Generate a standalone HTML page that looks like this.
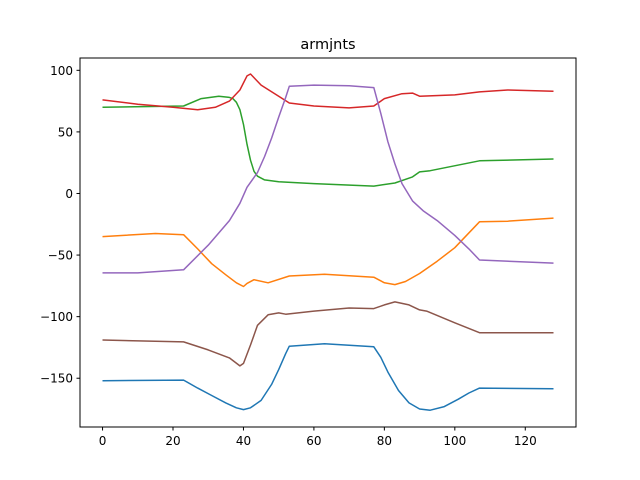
<!DOCTYPE html>
<html><head><meta charset="utf-8"><style>
html,body{margin:0;padding:0;background:#fff;}
svg{display:block;font-family:"DejaVu Sans","Liberation Sans",sans-serif;}
</style></head><body>
<svg id="chart" width="640" height="480" viewBox="0 0 640 480" xmlns="http://www.w3.org/2000/svg">
<rect width="640" height="480" fill="#fff"/>
<text x="328" y="49" font-size="14.5" text-anchor="middle" fill="#000">armjnts</text>
<g id="plot"></g>
<rect x="80" y="58" width="496" height="369" fill="none" stroke="#000" stroke-width="1"/>
<g id="axes"></g>
</svg>
<script>
const xTicks = [0, 20, 40, 60, 80, 100, 120];
const yTicks = [-150, -100, -50, 0, 50, 100];
const blueX = [0,23,27,31,35,38,40,42,45,48,50,52,53,63,77,79,81,84,87,90,93,97,101,104,107,128];
const blueY = [-152,-151.5,-158,-164,-170,-174,-175.5,-174,-168,-155,-143,-130,-124,-122,-124.5,-133,-145,-160,-170,-175,-176,-173,-167,-162,-158,-158.5];
const orangeX = [0,15,23,27,31,35,38,40,41,43,47,53,63,77,80,83,86,90,95,100,107,115,128];
const orangeY = [-35,-32.5,-33.5,-45,-57,-66,-72.5,-75.5,-73,-70,-72.5,-67,-65.5,-68,-72.5,-74,-71.5,-65,-55,-44,-23,-22.5,-20];
const greenX = [0,23,28,33,36,37,38,39,40,41,42,43,44,46,50,60,77,83,88,90,93,107,128];
const greenY = [70,71,77,79,78,77,74,68,56,40,27,18,14,11,9.5,8,6,8.5,13.5,17.5,18.5,26.5,28];
const redX = [0,10,20,27,32,36,39,41,42,45,50,53,60,70,77,80,85,88,90,100,107,115,128];
const redY = [76,72.5,70,68,70,75,84,95.5,97,88,79,73.5,71,69.5,71,77,81,81.5,79,80,82.5,84,83];
const purpleX = [0,10,23,30,36,39,41,44,46,48,50,52,53,60,70,77,79,81,83,85,88,91,95,100,104,107,128];
const purpleY = [-64.5,-64.5,-62,-42,-22,-8,5,17,30,45,62,78,87,88,87.5,86,65,42,24,8,-6,-14,-22,-34,-45,-54,-56.5];
const brownX = [0,23,30,36,39,40,42,44,47,50,52,60,70,77,80,83,87,90,92,100,107,128];
const brownY = [-119,-120.5,-127,-133.5,-140,-138,-123,-107,-98.5,-97,-98,-95.5,-93,-93.5,-90.5,-88,-90.5,-94.5,-95.5,-105,-113,-113];

const X0=80, X1=576, Y0=58, Y1=427;
const xMin=-6.4, xMax=134.4, yMin=-189.6, yMax=110;
function sx(v){return X0+(v-xMin)/(xMax-xMin)*(X1-X0);}
function sy(v){return Y1-(v-yMin)/(yMax-yMin)*(Y1-Y0);}
const NS="http://www.w3.org/2000/svg";
const plot=document.getElementById('plot');
const axes=document.getElementById('axes');
function addLine(xs,ys,color,name){
  const p=document.createElementNS(NS,'polyline');
  p.setAttribute('points',xs.map((x,i)=>sx(x).toFixed(1)+','+sy(ys[i]).toFixed(1)).join(' '));
  p.setAttribute('fill','none');
  p.setAttribute('stroke',color);
  p.setAttribute('stroke-width','1.5');
  p.setAttribute('stroke-linejoin','round');
  
  
  plot.appendChild(p);
}
addLine(blueX,blueY,'#1f77b4','series-blue');
addLine(orangeX,orangeY,'#ff7f0e','series-orange');
addLine(greenX,greenY,'#2ca02c','series-green');
addLine(redX,redY,'#d62728','series-red');
addLine(purpleX,purpleY,'#9467bd','series-purple');
addLine(brownX,brownY,'#8c564b','series-brown');
xTicks.forEach(t=>{
  const x=sx(t);
  const l=document.createElementNS(NS,'line');
  l.setAttribute('x1',x);l.setAttribute('x2',x);l.setAttribute('y1',Y1);l.setAttribute('y2',Y1+3.5);
  l.setAttribute('stroke','#000');
  
  
  axes.appendChild(l);
  const tx=document.createElementNS(NS,'text');
  tx.setAttribute('x',x);tx.setAttribute('y',Y1+18);
  tx.setAttribute('text-anchor','middle');tx.setAttribute('font-size','12');
  tx.textContent=t;
  
  
  axes.appendChild(tx);
});
yTicks.forEach(t=>{
  const y=sy(t);
  const l=document.createElementNS(NS,'line');
  l.setAttribute('x1',X0-3.5);l.setAttribute('x2',X0);l.setAttribute('y1',y);l.setAttribute('y2',y);
  l.setAttribute('stroke','#000');
  
  
  axes.appendChild(l);
  const tx=document.createElementNS(NS,'text');
  tx.setAttribute('x',X0-7);tx.setAttribute('y',y+4.5);
  tx.setAttribute('text-anchor','end');tx.setAttribute('font-size','12');
  tx.textContent=t<0?'\u2212'+Math.abs(t):t;
  
  
  axes.appendChild(tx);
});
</script>
</body></html>
